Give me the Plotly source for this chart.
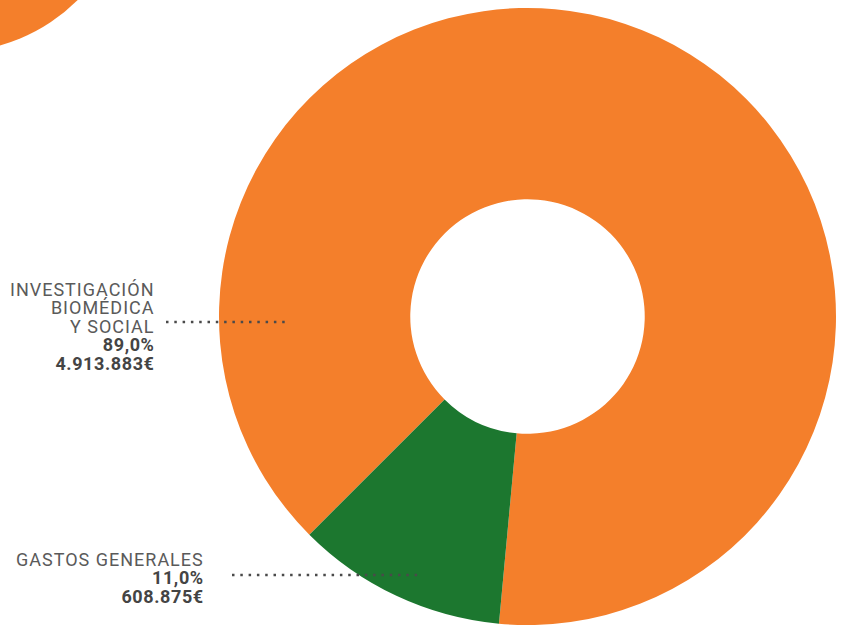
import plotly.graph_objects as go

W, H = 842, 625

categories = ["INVESTIGACIÓN BIOMÉDICA Y SOCIAL", "GASTOS GENERALES"]
amounts = [4913883, 608875]
percents = ["89,0%", "11,0%"]
amount_labels = ["4.913.883€", "608.875€"]
colors = ["#F47F2B", "#1C772F"]

label_lines = [["INVESTIGACIÓN", "BIOMÉDICA", "Y SOCIAL"], ["GASTOS GENERALES"]]


def px(x):
    return x / W


def py(y):
    return 1 - y / H


fig = go.Figure(
    go.Pie(
        labels=categories,
        values=amounts,
        hole=0.38,
        sort=False,
        direction="clockwise",
        rotation=225,
        marker=dict(colors=colors, line=dict(width=0)),
        textinfo="none",
        hovertemplate="%{label}: %{percent}<extra></extra>",
        domain=dict(x=[px(218), px(837)], y=[0, py(8)]),
        showlegend=False,
    )
)

# decorative circle in the top-left corner
fig.add_shape(
    type="circle", xref="paper", yref="paper",
    x0=px(-48 - 178), x1=px(-48 + 178), y0=py(-126 + 178), y1=py(-126 - 178),
    fillcolor=colors[0], line=dict(width=0), layer="below",
)

# leader lines
for x0, x1, y in [(166, 285, 322), (232, 420, 575)]:
    fig.add_shape(
        type="line", xref="paper", yref="paper",
        x0=px(x0), x1=px(x1), y0=py(y), y1=py(y),
        line=dict(color="#4a4a4a", width=2.5, dash="2.5px,5.8px"),
    )

LIGHT = "<span style='font-size:18px;letter-spacing:1px;fill:#5a5a5a'>%s</span>"
BOLD = "<span style='font-size:18px;letter-spacing:0.6px;fill:#444444'><b>%s</b></span>"


def add_label(lines, pct, amt, right, top):
    rows = [LIGHT % t for t in lines] + [BOLD % pct, BOLD % amt]
    fig.add_annotation(
        text="<br>".join(rows), xref="paper", yref="paper", x=px(right), y=py(top),
        xanchor="right", yanchor="top", align="right", showarrow=False,
        font=dict(family="Roboto", size=14.2, color="#5a5a5a"),
    )


add_label(label_lines[0], percents[0], amount_labels[0], 157, 277)
add_label(label_lines[1], percents[1], amount_labels[1], 206, 547)

fig.update_layout(
    width=W, height=H,
    margin=dict(l=0, r=0, t=0, b=0, pad=0),
    paper_bgcolor="white",
    plot_bgcolor="white",
)

fig.write_html(
    "out.html",
    config={"displayModeBar": False},
    post_script="document.body.style.margin='0';document.body.style.overflow='hidden';",
)
